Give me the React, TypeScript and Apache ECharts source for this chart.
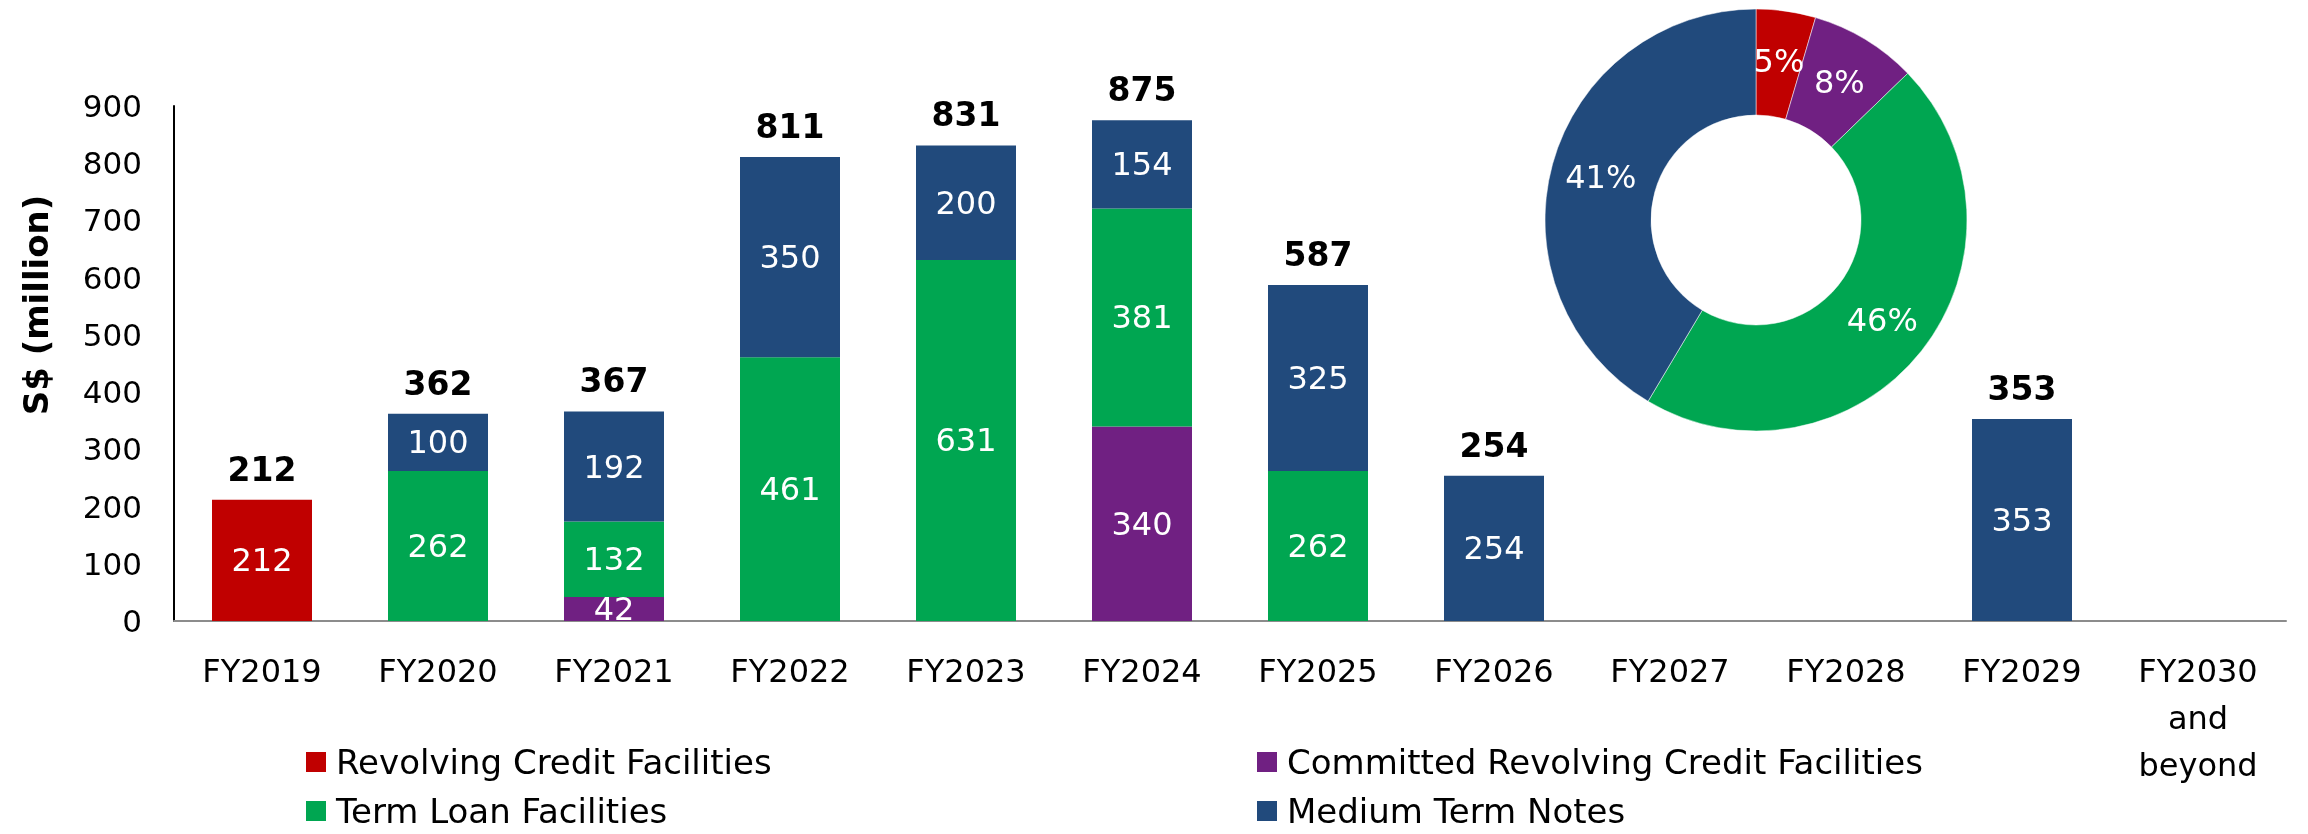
import React, { useEffect, useRef } from "react";
import * as echarts from "echarts";

const categories = ["FY2019", "FY2020", "FY2021", "FY2022", "FY2023", "FY2024", "FY2025", "FY2026", "FY2027", "FY2028", "FY2029", "FY2030\nand\nbeyond"];
const revolving = [212, null, null, null, null, null, null, null, null, null, null, null];
const committed = [null, null, 42, null, null, 340, null, null, null, null, null, null];
const termLoan = [null, 262, 132, 461, 631, 381, 262, null, null, null, null, null];
const mtn = [null, 100, 192, 350, 200, 154, 325, 254, null, null, 353, null];
const totals = [212, 362, 367, 811, 831, 875, 587, 254, null, null, 353, null];
const yTicks = { min: 0, max: 900, interval: 100 };

const seriesNames = ["Revolving Credit Facilities", "Committed Revolving Credit Facilities", "Term Loan Facilities", "Medium Term Notes"];
const colors = ["#C00000", "#702082", "#00A651", "#214A7C"];

const FONT = "DejaVu Sans";

const sum = (a: (number | null)[]) => a.reduce((s: number, v) => s + (v || 0), 0);

export default function App() {
  const ref = useRef<HTMLDivElement>(null);
  useEffect(() => {
    const chart = echarts.init(ref.current!, null, { renderer: "svg" });
    const innerLabel = {
      show: true,
      position: "inside",
      color: "#fff",
      fontSize: 32,
      fontFamily: FONT,
      formatter: (p: any) => (p.value == null ? "" : String(p.value)),
    };
    const stackData = [revolving, committed, termLoan, mtn];
    const barSeries: any[] = stackData.map((d, i) => ({
      name: seriesNames[i],
      type: "bar",
      stack: "total",
      data: d,
      barWidth: 100,
      itemStyle: { color: colors[i] },
      label: innerLabel,
    }));
    barSeries.push({
      name: "Total",
      type: "bar",
      data: totals,
      barWidth: 100,
      barGap: "-100%",
      itemStyle: { color: "transparent" },
      label: {
        show: true,
        position: "top",
        distance: 14,
        color: "#000",
        fontWeight: "bold",
        fontSize: 33,
        fontFamily: FONT,
        formatter: (p: any) => (p.value == null ? "" : String(p.value)),
      },
      z: 1,
    });
    const pieData = stackData.map((d, i) => ({ name: seriesNames[i], value: sum(d), itemStyle: { color: colors[i] } }));
    const legendText = { fontSize: 34, fontFamily: FONT, color: "#000", lineHeight: 34, padding: [0, 0, 0, 5] };
    const legendPos = [
      { name: seriesNames[0], left: 306, top: 745 },
      { name: seriesNames[2], left: 306, top: 794 },
      { name: seriesNames[1], left: 1257, top: 745 },
      { name: seriesNames[3], left: 1257, top: 794 },
    ];
    chart.setOption({
      animation: false,
      grid: { left: 174, right: 22, top: 106, bottom: 213, containLabel: false },
      legend: legendPos.map((l) => ({
        data: [l.name],
        left: l.left,
        top: l.top,
        padding: 0,
        itemWidth: 20,
        itemHeight: 20,
        icon: "rect",
        selectedMode: false,
        textStyle: legendText,
      })),
      xAxis: {
        type: "category",
        data: categories,
        axisLine: { show: true, lineStyle: { color: "#8c8c8c", width: 2 } },
        axisTick: { show: false },
        axisLabel: { color: "#000", fontSize: 32, fontFamily: FONT, lineHeight: 47, margin: 26, interval: 0 },
      },
      yAxis: {
        type: "value",
        min: yTicks.min,
        max: yTicks.max,
        interval: yTicks.interval,
        axisLine: { show: true, lineStyle: { color: "#000", width: 2 } },
        axisTick: { show: false },
        splitLine: { show: false },
        axisLabel: { color: "#000", fontSize: 31, fontFamily: FONT, margin: 32 },
      },
      graphic: [
        {
          type: "text",
          x: 36,
          y: 305,
          rotation: Math.PI / 2,
          style: {
            text: "S$ (million)",
            fontSize: 34,
            fontWeight: "bold",
            fontFamily: FONT,
            fill: "#000",
            align: "center",
            verticalAlign: "middle",
          },
        },
      ],
      series: [
        ...barSeries,
        {
          type: "pie",
          center: [1756, 220],
          radius: [105, 211],
          startAngle: 90,
          clockwise: true,
          data: pieData,
          itemStyle: { borderColor: "#fff", borderWidth: 0.5 },
          label: {
            show: true,
            position: "inside",
            color: "#fff",
            fontSize: 32,
            fontFamily: FONT,
            formatter: (p: any) => Math.round(p.percent) + "%",
          },
          labelLine: { show: false },
        },
      ],
    });
    return () => chart.dispose();
  }, []);
  return <div ref={ref} style={{ position: "fixed", left: 0, top: 0, width: 2308, height: 834 }} />;
}
